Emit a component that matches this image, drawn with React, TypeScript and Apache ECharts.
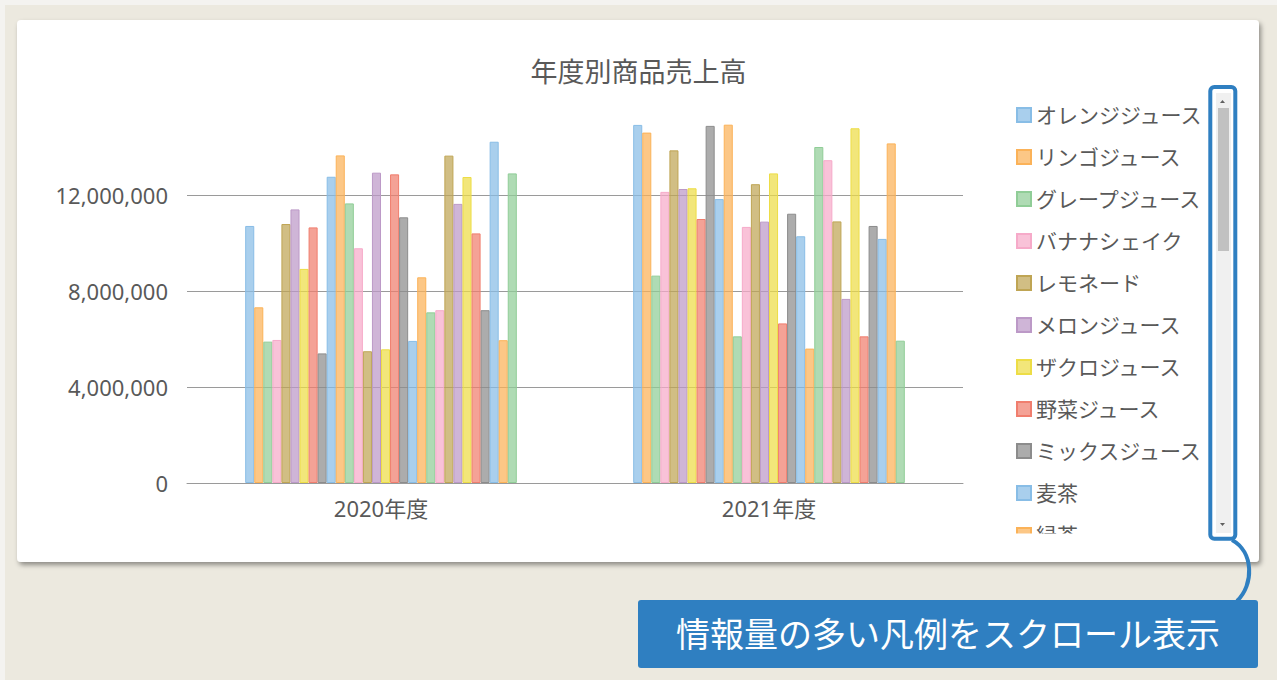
import React, { useEffect, useRef } from 'react';
import * as echarts from 'echarts';

const categories = ['2020年度', '2021年度'];

const seriesNames = [
  'オレンジジュース', 'リンゴジュース', 'グレープジュース', 'バナナシェイク', 'レモネード',
  'メロンジュース', 'ザクロジュース', '野菜ジュース', 'ミックスジュース', '麦茶',
  '緑茶', '紅茶', 'ウーロン茶', 'ほうじ茶', 'ジャスミン茶',
  'コーヒー', 'カフェラテ', 'ココア', '抹茶ラテ', 'ミルク',
  '豆乳', 'ヨーグルトドリンク', '炭酸水', 'コーラ', 'サイダー',
  'ジンジャーエール', 'スポーツドリンク', 'ミネラルウォーター', 'トマトジュース', 'アイスティー',
];

const values2020 = [
  10710000, 7320000, 5890000, 5960000, 10790000,
  11400000, 8920000, 10650000, 5400000, 12760000,
  13650000, 11650000, 9780000, 5490000, 12930000,
  5570000, 12860000, 11070000, 5920000, 8570000,
  7110000, 7200000, 13640000, 11630000, 12750000,
  10400000, 7200000, 14220000, 5950000, 12900000,
];

const values2021 = [
  14920000, 14600000, 8640000, 12130000, 13860000,
  12250000, 12280000, 11000000, 14880000, 11830000,
  14930000, 6110000, 10670000, 12450000, 10890000,
  12900000, 6650000, 11220000, 10280000, 5600000,
  14000000, 13450000, 10900000, 7670000, 14780000,
  6110000, 10710000, 10170000, 14150000, 5930000,
];

const yAxisMin = 0;
const yAxisMax = 16000000;
const yAxisInterval = 4000000;
const visibleLegendCount = 11;

const titleText = '年度別商品売上高';
const calloutText = '情報量の多い凡例をスクロール表示';

const palette = ['#88bde6', '#fbb258', '#90cd97', '#f6aac9', '#bfa554', '#bc99c7', '#eddd46', '#f07e6e', '#8c8c8c'];

const FONT = "'Noto Sans', 'Noto Sans CJK JP', sans-serif";
const TEXT_COLOR = '#595959';
const BLUE = '#2f7fc1';
const GRID_COLOR = '#9a9a9a';

function rgba(hex: string, a: number) {
  const n = parseInt(hex.slice(1), 16);
  return `rgba(${(n >> 16) & 255},${(n >> 8) & 255},${n & 255},${a})`;
}

export default function App() {
  const ref = useRef<HTMLDivElement>(null);

  useEffect(() => {
    if (!ref.current) return;
    const chart = echarts.init(ref.current, undefined, { renderer: 'svg' });

    const series = seriesNames.map((name, i) => {
      const c = palette[i % palette.length];
      return {
        type: 'bar',
        name,
        data: [values2020[i], values2021[i]],
        barGap: '0%',
        barCategoryGap: '30%',
        itemStyle: { color: rgba(c, 0.72), borderColor: c, borderWidth: 1 },
        emphasis: { disabled: true },
      };
    });

    chart.setOption({
      animation: false,
      backgroundColor: '#ece9df',
      textStyle: { fontFamily: FONT },
      title: {
        text: titleText,
        left: 'center',
        top: 58,
        padding: 0,
        textStyle: { fontSize: 27, fontWeight: 'normal', color: TEXT_COLOR, fontFamily: FONT },
      },
      legend: {
        orient: 'vertical',
        left: 1016,
        top: 104.5,
        padding: 0,
        itemWidth: 14,
        itemHeight: 14,
        itemGap: 21,
        icon: 'rect',
        selectedMode: false,
        data: seriesNames.slice(0, visibleLegendCount),
        textStyle: { fontSize: 21, color: TEXT_COLOR, lineHeight: 20, fontFamily: FONT },
      },
      tooltip: { show: false },
      grid: { left: 187, right: 314, top: 99, bottom: 197 },
      xAxis: {
        type: 'category',
        data: categories,
        axisLine: { lineStyle: { color: GRID_COLOR, width: 1 } },
        axisTick: { alignWithLabel: true, length: 5, lineStyle: { color: GRID_COLOR } },
        axisLabel: { fontSize: 22, color: TEXT_COLOR, margin: 14, fontFamily: FONT },
      },
      yAxis: {
        type: 'value',
        min: yAxisMin,
        max: yAxisMax,
        interval: yAxisInterval,
        axisLine: { show: false },
        axisTick: { show: false },
        axisLabel: {
          fontSize: 22,
          color: TEXT_COLOR,
          margin: 19,
          showMaxLabel: false,
          fontFamily: FONT,
          formatter: (v: number) => v.toLocaleString('en-US'),
        },
        splitLine: { show: true, showMaxLine: false, lineStyle: { color: GRID_COLOR, width: 1.2 } },
      },
      graphic: [
        { type: 'rect', z: -20, shape: { x: 0, y: 0, width: 1277, height: 5 }, style: { fill: '#f4f3f0' } },
        { type: 'rect', z: -20, shape: { x: 0, y: 0, width: 5, height: 680 }, style: { fill: '#f4f3f0' } },
        {
          type: 'rect', z: -10,
          shape: { x: 17, y: 20, width: 1242, height: 542, r: 4 },
          style: { fill: '#ffffff', shadowBlur: 5, shadowOffsetX: 2, shadowOffsetY: 3, shadowColor: 'rgba(0,0,0,0.4)' },
        },
        { type: 'rect', z: 100, shape: { x: 1005, y: 533.5, width: 200, height: 26 }, style: { fill: '#ffffff' } },
        { type: 'rect', z: 100, shape: { x: 1216, y: 93, width: 15, height: 440 }, style: { fill: '#f0f0f0' } },
        { type: 'polygon', z: 101, shape: { points: [[1220, 103], [1225, 103], [1222.5, 100]] }, style: { fill: '#606060' } },
        { type: 'rect', z: 101, shape: { x: 1218, y: 108, width: 11, height: 143 }, style: { fill: '#c1c1c1' } },
        { type: 'polygon', z: 101, shape: { points: [[1220, 523], [1225, 523], [1222.5, 526]] }, style: { fill: '#606060' } },
        {
          type: 'rect', z: 102,
          shape: { x: 1210.3, y: 87, width: 25, height: 451.7, r: 4 },
          style: { fill: 'transparent', stroke: BLUE, lineWidth: 4 },
        },
        {
          type: 'bezierCurve', z: 102,
          shape: { x1: 1232, y1: 540, cpx1: 1254, cpy1: 552, cpx2: 1254, cpy2: 585, x2: 1237, y2: 601 },
          style: { fill: 'transparent', stroke: BLUE, lineWidth: 4 },
        },
        {
          type: 'rect', z: 102,
          shape: { x: 638, y: 600, width: 620, height: 68, r: 3 },
          style: { fill: BLUE },
        },
        {
          type: 'text', z: 103,
          style: {
            text: calloutText, x: 948, y: 634, fill: '#ffffff',
            fontSize: 34, fontFamily: FONT, align: 'center', verticalAlign: 'middle',
          },
        },
      ],
      series,
    } as any);

    return () => chart.dispose();
  }, []);

  return (
    <div style={{ position: 'fixed', left: 0, top: 0, width: 1277, height: 680 }}>
      <div ref={ref} style={{ width: 1277, height: 680 }} />
    </div>
  );
}
